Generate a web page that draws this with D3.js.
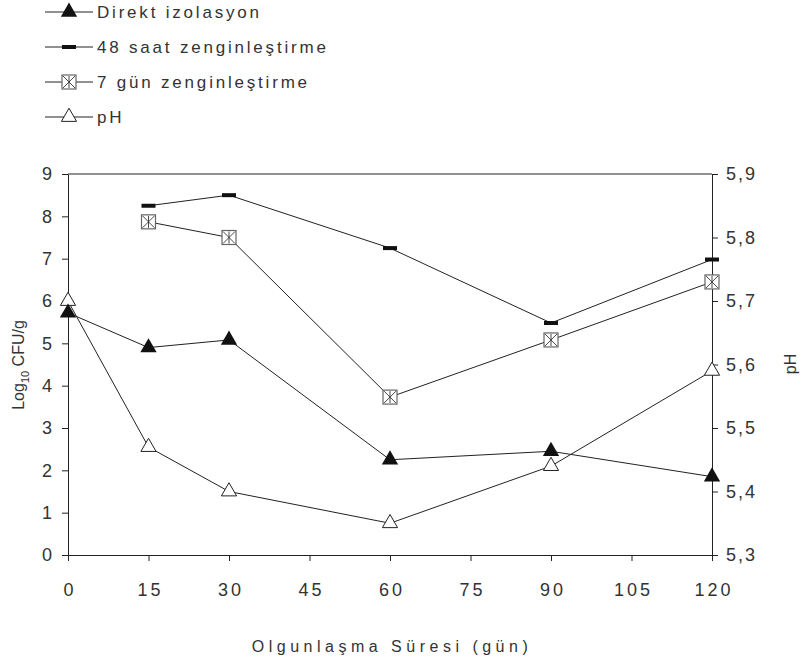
<!DOCTYPE html>
<html>
<head>
<meta charset="utf-8">
<script src="https://cdn.jsdelivr.net/npm/d3@7"></script>
<style>
  body { margin: 0; background: #fff; }
  svg { display: block; font-family: "Liberation Sans", Arial, sans-serif; }
</style>
</head>
<body>
<svg width="807" height="657"></svg>
<script>
// olgunlasma suresi (gun)
var days = [0, 15, 30, 60, 90, 120];
var direkt = [5.72, 4.9, 5.08, 2.25, 2.45, 1.85];
var saat48 = [null, 8.25, 8.5, 7.25, 5.48, 6.98];
var gun7 = [null, 7.87, 7.5, 3.73, 5.08, 6.45];
var ph = [5.70, 5.47, 5.40, 5.35, 5.44, 5.59];

var xTicks = [0, 15, 30, 45, 60, 75, 90, 105, 120];
var yTicks = [0, 1, 2, 3, 4, 5, 6, 7, 8, 9];
var phTicks = [5.3, 5.4, 5.5, 5.6, 5.7, 5.8, 5.9];
var legendNames = ["Direkt izolasyon", "48 saat zenginleştirme", "7 gün zenginleştirme", "pH"];

(function() {
  var svg = d3.select("svg");
  var pLeft = 68, pRight = 712, pTop = 174, pBottom = 555;
  var ink = "#222";

  var x = d3.scaleLinear().domain([0, 120]).range([pLeft, pRight]);
  var y = d3.scaleLinear().domain([0, 9]).range([pBottom, pTop]);
  var yPh = d3.scaleLinear().domain([5.3, 5.9]).range([pBottom, pTop]);

  // top border of plot
  svg.append("line").attr("x1", pLeft).attr("x2", pRight).attr("y1", pTop).attr("y2", pTop)
    .style("stroke", ink).style("stroke-width", 1);

  function styleAxis(g) {
    g.selectAll("path").style("stroke", ink);
    g.selectAll("line").style("stroke", ink);
    g.selectAll("text").style("fill", "#333").style("font-size", "18px");
  }

  var xAxis = svg.append("g").attr("transform", "translate(0," + pBottom + ")")
    .call(d3.axisBottom(x).tickValues(xTicks).tickSize(6).tickSizeOuter(0).tickPadding(22));
  styleAxis(xAxis);
  xAxis.selectAll("text").style("letter-spacing", "3px").attr("dx", "1.5px");

  var yAxis = svg.append("g").attr("transform", "translate(" + pLeft + ",0)")
    .call(d3.axisLeft(y).tickValues(yTicks).tickSize(6).tickSizeOuter(0).tickPadding(10));
  styleAxis(yAxis);

  var phAxis = svg.append("g").attr("transform", "translate(" + pRight + ",0)")
    .call(d3.axisRight(yPh).tickValues(phTicks).tickSize(6).tickSizeOuter(0).tickPadding(8)
      .tickFormat(function(d) { return d3.format(".1f")(d).replace(".", ","); }));
  styleAxis(phAxis);
  phAxis.selectAll("text").style("letter-spacing", "2px");

  // axis titles
  svg.append("text").attr("x", (pLeft + pRight) / 2 + 2).attr("y", 652)
    .attr("text-anchor", "middle").style("font-size", "16px").style("fill", "#333")
    .style("letter-spacing", "4.5px").text("Olgunlaşma Süresi (gün)");

  var yt = svg.append("text").attr("transform", "translate(24,365) rotate(-90)")
    .attr("text-anchor", "middle").style("font-size", "16px").style("fill", "#333");
  yt.append("tspan").text("Log");
  yt.append("tspan").attr("dy", 5).style("font-size", "11px").text("10");
  yt.append("tspan").attr("dy", -5).text(" CFU/g");

  svg.append("text").attr("transform", "translate(796,364) rotate(-90)")
    .attr("text-anchor", "middle").style("font-size", "16px").style("fill", "#333").text("pH");

  // markers
  function triFilled(g, cx, cy) {
    g.append("path").attr("d", d3.symbol().type(d3.symbolTriangle).size(115)())
      .attr("transform", "translate(" + cx + "," + cy + ")").style("fill", "#111");
  }
  function dash(g, cx, cy) {
    g.append("rect").attr("x", cx - 7).attr("y", cy - 2).attr("width", 14).attr("height", 4).style("fill", "#111");
  }
  function boxX(g, cx, cy) {
    var s = 7;
    g.append("rect").attr("x", cx - s).attr("y", cy - s).attr("width", 2 * s).attr("height", 2 * s)
      .style("fill", "#fff").style("stroke", "#666").style("stroke-width", 1.2);
    g.append("path").attr("d", "M" + (cx - s + 1) + "," + (cy - s + 1) + "L" + (cx + s - 1) + "," + (cy + s - 1) +
        "M" + (cx + s - 1) + "," + (cy - s + 1) + "L" + (cx - s + 1) + "," + (cy + s - 1) +
        "M" + cx + "," + (cy - s + 1) + "L" + cx + "," + (cy + s - 1))
      .style("stroke", "#333").style("stroke-width", 0.9);
  }
  function triOpen(g, cx, cy) {
    g.append("path").attr("d", d3.symbol().type(d3.symbolTriangle).size(100)())
      .attr("transform", "translate(" + cx + "," + cy + ")")
      .style("fill", "#fff").style("stroke", "#222").style("stroke-width", 1);
  }

  var series = [
    { vals: ph, scale: yPh, mark: triOpen },
    { vals: direkt, scale: y, mark: triFilled },
    { vals: gun7, scale: y, mark: boxX },
    { vals: saat48, scale: y, mark: dash }
  ];

  series.forEach(function(s) {
    var pts = days.map(function(d, i) { return [d, s.vals[i]]; }).filter(function(p) { return p[1] !== null; });
    var line = d3.line().x(function(p) { return x(p[0]); }).y(function(p) { return s.scale(p[1]); });
    svg.append("path").datum(pts).attr("d", line)
      .style("fill", "none").style("stroke", "#222").style("stroke-width", 1);
  });
  series.forEach(function(s) {
    var g = svg.append("g");
    days.forEach(function(d, i) {
      if (s.vals[i] !== null) s.mark(g, x(d), s.scale(s.vals[i]));
    });
  });

  // legend
  var legMarks = [triFilled, dash, boxX, triOpen];
  legendNames.forEach(function(name, i) {
    var ly = 12 + i * 35;
    var g = svg.append("g");
    g.append("line").attr("x1", 45).attr("x2", 93).attr("y1", ly).attr("y2", ly)
      .style("stroke", "#222").style("stroke-width", 1);
    legMarks[i](g, 69, ly);
    g.append("text").attr("x", 97).attr("y", ly + 6).style("font-size", "17px").style("fill", "#333")
      .style("letter-spacing", "2.8px").text(name);
  });
})();
</script>
</body>
</html>
